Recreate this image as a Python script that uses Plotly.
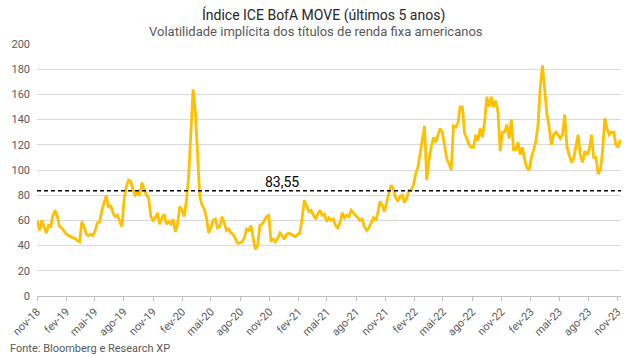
import pandas as pd
import plotly.graph_objects as go

# Weekly readings of the ICE BofA MOVE index (from nov-18)
start_date = "2018-11-02"
move_values = [
    60, 52, 60, 55, 50, 56, 55, 64, 68, 63,
    55, 54, 51, 49, 48, 47, 46, 46, 44, 43,
    59, 55, 49, 48, 49, 48, 52, 58, 59, 68,
    74, 80, 70, 72, 66, 63, 64, 60, 55, 77,
    87, 92, 91, 84, 80,
    82, 80, 90, 84, 80,
    78, 63, 60, 62, 66, 57, 62, 65, 57, 59,
    57, 61, 51, 57, 71, 68, 63, 76, 95, 134,
    164, 147, 110, 79, 72, 69, 62, 50, 54, 60,
    61, 54, 55, 63, 58, 52, 53, 50, 49, 46,
    42, 42,
    43, 46, 53, 52, 56, 46, 37, 40,
    56, 57, 60, 63, 64, 44, 45, 43, 46, 50,
    48, 45, 49, 50, 49, 48, 47, 49, 50, 62,
    76, 72, 67, 68, 65, 61, 65, 68, 64, 65,
    59, 62, 60, 61, 56, 54, 58, 66, 62,
    64, 63, 68, 66, 64, 62, 60, 61, 55, 52, 54,
    58, 62, 60, 66, 75, 72, 67, 75, 82, 88,
    85, 78, 75, 79, 80, 74, 78, 84, 84, 88,
    97, 102, 113, 125, 135, 92, 108, 118, 126, 122,
    128, 133, 130, 118, 109, 105, 100,
    135, 134, 137, 150, 150, 129, 125, 120, 118, 118,
    128, 123, 133, 126, 138, 158, 150, 158, 150, 155,
    146, 115, 130, 130, 136, 125, 140, 116, 116, 122,
    112, 118, 108, 102, 100, 110, 116, 123, 136, 166,
    183, 160, 144, 134, 120, 128, 130,
    128, 125, 128, 144, 118, 112, 106, 109, 118, 128,
    112, 106, 115, 112, 116, 128, 110, 110, 97, 100,
    115, 141, 133, 128, 130, 130, 120, 118, 124,
]
average_value = 83.55
average_label = "83,55"

tick_dates = [
    "2018-11-01", "2019-02-01", "2019-05-01", "2019-08-01", "2019-11-01",
    "2020-02-01", "2020-05-01", "2020-08-01", "2020-11-01",
    "2021-02-01", "2021-05-01", "2021-08-01", "2021-11-01",
    "2022-02-01", "2022-05-01", "2022-08-01", "2022-11-01",
    "2023-02-01", "2023-05-01", "2023-08-01", "2023-11-01",
]
tick_labels = [
    "nov-18", "fev-19", "mai-19", "ago-19", "nov-19",
    "fev-20", "mai-20", "ago-20", "nov-20",
    "fev-21", "mai-21", "ago-21", "nov-21",
    "fev-22", "mai-22", "ago-22", "nov-22",
    "fev-23", "mai-23", "ago-23", "nov-23",
]
y_ticks = [0, 20, 40, 60, 80, 100, 120, 140, 160, 180, 200]

title_text = "Índice ICE BofA MOVE (últimos 5 anos)"
subtitle_text = "Volatilidade implícita dos títulos de renda fixa americanos"
source_text = "Fonte: Bloomberg e Research XP"

dates = pd.date_range(start_date, periods=len(move_values), freq="7D")

fig = go.Figure()
fig.add_trace(go.Scatter(
    x=dates, y=move_values, mode="lines",
    line=dict(color="#FFC000", width=2.8),
    hoverinfo="skip", showlegend=False,
))

x_range = ["2018-11-01", "2023-11-12"]
fig.add_trace(go.Scatter(
    x=x_range, y=[average_value, average_value], mode="lines",
    line=dict(color="#000000", width=1.6, dash="4px,3px"),
    hoverinfo="skip", showlegend=False,
))

fig.add_annotation(
    x="2020-12-10", y=average_value, text=average_label,
    showarrow=False, yanchor="bottom", yshift=-1,
    font=dict(family="Roboto", size=14, color="#000000"),
)

PLOT_H = 252.0
PLOT_W = 584.0

fig.add_annotation(
    xref="paper", yref="paper", x=0.49, y=1 + 29 / PLOT_H,
    xanchor="center", yanchor="middle", text=title_text, showarrow=False,
    font=dict(family="Roboto", size=14, color="#262626"),
)
fig.add_annotation(
    xref="paper", yref="paper", x=0.478, y=1 + 12 / PLOT_H,
    xanchor="center", yanchor="middle", text=subtitle_text, showarrow=False,
    font=dict(family="Roboto", size=13, color="#595959"),
)
fig.add_annotation(
    xref="paper", yref="paper", x=-29 / PLOT_W, y=-52 / PLOT_H,
    xanchor="left", yanchor="middle", text=source_text, showarrow=False,
    font=dict(family="Roboto", size=11, color="#595959"),
)

fig.update_layout(
    width=639, height=357,
    margin=dict(l=37, r=18, t=44, b=61, autoexpand=False),
    paper_bgcolor="white", plot_bgcolor="white",
    font=dict(family="Roboto", color="#595959"),
    xaxis=dict(
        type="date", range=x_range, automargin=False,
        tickmode="array", tickvals=tick_dates, ticktext=tick_labels,
        tickangle=-45, tickfont=dict(size=11, color="#595959"),
        showgrid=False, showline=False, zeroline=False,
        ticks="outside", ticklen=4, tickcolor="#bfbfbf",
    ),
    yaxis=dict(
        range=[0, 200], tickmode="array", tickvals=y_ticks, automargin=False,
        tickfont=dict(size=11, color="#595959"),
        showgrid=True, gridcolor="#d9d9d9", gridwidth=1,
        zeroline=True, zerolinecolor="#bfbfbf", zerolinewidth=1,
        showline=False, ticks="", ticklabelstandoff=6,
    ),
)

fig.write_html(
    "out.html",
    config={"displayModeBar": False, "staticPlot": True},
    post_script="document.body.style.margin='0';document.body.style.padding='0';document.body.style.overflow='hidden';",
)
